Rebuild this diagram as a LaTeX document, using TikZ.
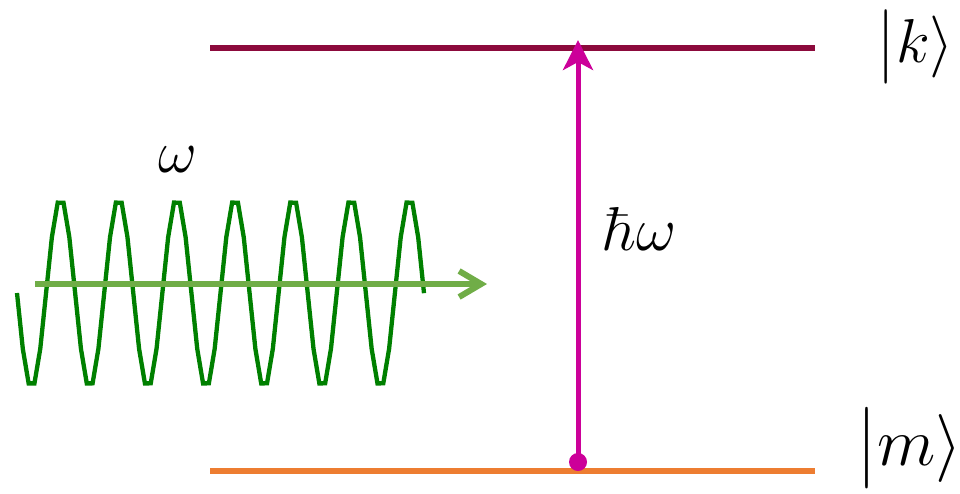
\documentclass[tikz,border=0pt]{standalone}
\usepackage{fix-cm}
\usepackage{graphicx}
\usetikzlibrary{arrows.meta}
\definecolor{lvlk}{RGB}{140,10,60}
\definecolor{lvlm}{RGB}{237,125,49}
\definecolor{trans}{RGB}{204,0,153}
\definecolor{wavegreen}{RGB}{0,128,0}
\definecolor{dirgreen}{RGB}{112,173,71}
\newcommand{\ketstrut}{\vrule height 0.83em depth 0.33em width 0pt}
\newcommand{\ketbar}{\mathopen{\raisebox{-0.05em}{\scalebox{1}[1.2]{$|$}}}}
\newcommand{\myket}[1]{\ketbar\left.\ketstrut #1\right\rangle}
\tikzset{
  levelk/.style={draw=lvlk, line width=5.5pt},
  levelm/.style={draw=lvlm, line width=6pt},
  transition/.style={draw=trans, line width=5pt, -{Stealth[length=30pt,width=30pt,inset=8pt]}},
  wave/.style={draw=wavegreen, line width=4.3pt},
  dir/.style={draw=dirgreen, line width=6pt, -{Straight Barb[length=22pt,width=26pt]}},
  lbl/.style={inner sep=0pt, anchor=base},
}
\begin{document}
\begin{tikzpicture}[x=1pt,y=-1pt]
\useasboundingbox (0,0) rectangle (960,493);
\coordinate (k1) at (210,48);
\coordinate (k2) at (815,48);
\coordinate (m1) at (210,471);
\coordinate (m2) at (815,471);
\draw[levelk] (k1) -- (k2);
\draw[levelm] (m1) -- (m2);
\node[circle, fill=trans, inner sep=0pt, minimum size=18pt] (dot) at (578,462) {};
\coordinate (tip) at (578,40);
\draw[transition] (dot.center) -- (tip);
\draw[wave] plot[domain=17:424, samples=71] (\x, {293+95*sin(6.1919*(\x-17))});
\coordinate (ga) at (35,284);
\coordinate (gb) at (487,284);
\draw[dir] (ga) -- (gb);
\node[lbl, font=\fontsize{60}{72}\selectfont] (om) at (178,172) {$\omega$};
\node[lbl, font=\fontsize{62}{74}\selectfont] (hom) at (640,250) {$\hbar\omega$};
\node[lbl, font=\fontsize{62}{74}\selectfont] (kl) at (916,62) {$\myket{k}$};
\node[lbl, font=\fontsize{68}{82}\selectfont] (ml) at (910,465) {$\myket{m}$};
\end{tikzpicture}
\end{document}
